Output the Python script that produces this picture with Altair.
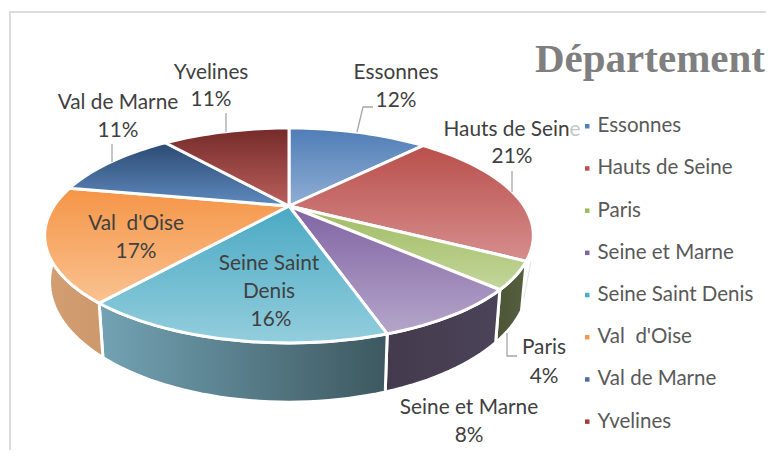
import math
import altair as alt
import pandas as pd

# ---- data
categories = ["Essonnes", "Hauts de Seine", "Paris", "Seine et Marne",
              "Seine Saint Denis", "Val\u00a0 d'Oise", "Val de Marne", "Yvelines"]
shares = [12, 21, 4, 8, 16, 17, 11, 11]
legend_colors = ["#4f81bd", "#c0504d", "#9bbb59", "#8064a2",
                 "#4bacc6", "#f79646", "#4a6fa0", "#a33c3a"]
top_dark = ["#4f7db6", "#b94f4c", "#a0bb62", "#8064a2",
            "#4aa9c3", "#f59547", "#2b4a72", "#742b29"]
top_light = ["#90aed4", "#d68e8d", "#c3d69b", "#b5a5ca",
             "#93cedd", "#fac291", "#5f8abf", "#bb5f5d"]
side_slices = {"Paris": ("#566040", "#4b5434"),
               "Seine et Marne": ("#4b4358", "#443a4e"),
               "Seine Saint Denis": ("#73a3b4", "#3d5860"),
               "Val\u00a0 d'Oise": ("#cc986c", "#d29e72")}

# ---- label layout (text, centre x, centre y)
label_text = ["Yvelines", "11%", "Val de Marne", "11%", "Essonnes", "12%",
              "Hauts de Seine", "21%", "Paris", "4%", "Seine et Marne", "8%",
              "Val\u00a0 d'Oise", "17%", "Seine Saint", "Denis", "16%"]
label_x = [211, 211, 118, 118, 396, 396, 512, 512, 544, 544, 469, 469, 136, 136, 269, 269, 271]
label_y = [73, 100, 103, 131, 73, 101, 130, 157, 348, 377, 408, 436, 224, 252, 264, 292, 320]
leaders = [[(226, 113), (226, 132)],
           [(112, 144), (112, 162)],
           [(373, 107), (363, 107), (357, 132)],
           [(512, 171), (512, 192)],
           [(507, 333), (507, 356), (517, 356)]]

# ---- projection of the tilted disc
CX, CY, BX, AY, K, DEPTH = 289, 206, 235, 99.4, 0.274, 43
X_SCALE = alt.Scale(domain=[8, 766], range=[0, 758], nice=False, zero=False)
Y_SCALE = alt.Scale(domain=[450, 8], range=[442, 0], nice=False, zero=False)


def rim(share_pct, lower=False):
    t = math.radians(share_pct * 3.6)
    sx, sy = math.sin(t), math.cos(t)
    den = 1 + K * sy
    if lower:
        return CX + 0.98 * BX * sx / den, CY - AY * sy / den + DEPTH / den
    return CX + BX * sx / den, CY - AY * sy / den


def arc(a, b, lower=False):
    n = max(2, int((b - a) * 2))
    return [rim(a + (b - a) * i / n, lower) for i in range(n + 1)]


def xy(pts):
    return alt.Data(values=[{"x": float(p[0]), "y": float(p[1]), "i": i} for i, p in enumerate(pts)])


def enc(ch):
    return ch.encode(x=alt.X("x:Q", scale=X_SCALE, axis=None),
                     y=alt.Y("y:Q", scale=Y_SCALE, axis=None),
                     order=alt.Order("i:Q"))


def grad(c1, c2, horizontal=False):
    return alt.Gradient(gradient="linear",
                        stops=[alt.GradientStop(color=c1, offset=0), alt.GradientStop(color=c2, offset=1)],
                        x1=0, y1=0, x2=1 if horizontal else 0, y2=0 if horizontal else 1)


layers = []

# legend carrier, hidden beneath the pie
legend_df = pd.DataFrame({"cat": categories, "x": [CX] * 8, "y": [CY + 20] * 8})
layers.append(alt.Chart(legend_df).mark_square(size=20, opacity=1).encode(
    x=alt.X("x:Q", scale=X_SCALE, axis=None),
    y=alt.Y("y:Q", scale=Y_SCALE, axis=None),
    color=alt.Color("cat:N", sort=categories,
                    scale=alt.Scale(domain=categories, range=legend_colors),
                    legend=alt.Legend(orient="none", legendX=569, legendY=108, title=None,
                                      symbolType="square", symbolSize=20,
                                      labelFont="Lato", labelFontSize=20.5, labelColor="#595959",
                                      labelOffset=0, rowPadding=21.2, labelLimit=220))))

# chart frame
layers.append(enc(alt.Chart(xy([(10, 450), (10, 12), (766, 12)])).mark_line(color="#dcdcdc", strokeWidth=2)))

# sides
cum = [sum(shares[:i]) for i in range(len(shares) + 1)]
for i, cat in enumerate(categories):
    key = cat
    if key in side_slices:
        a, b = cum[i], cum[i + 1]
        pts = arc(a, b) + arc(a, b, True)[::-1]
        pts.append(pts[0])
        c1, c2 = side_slices[key]
        layers.append(enc(alt.Chart(xy(pts)).mark_line(
            fill=grad(c2, c1, True) if cat.startswith("Seine Saint") is False else grad(c1, c2, True),
            stroke="white", strokeWidth=3, strokeJoin="miter")))

# top faces
for i, cat in enumerate(categories):
    pts = [(CX, CY)] + arc(cum[i], cum[i + 1]) + [(CX, CY)]
    layers.append(enc(alt.Chart(xy(pts)).mark_line(
        fill=grad(top_dark[i], top_light[i]), stroke="white", strokeWidth=3, strokeJoin="miter")))

# leader lines
for ld in leaders:
    layers.append(enc(alt.Chart(xy(ld)).mark_line(color="#a6a6a6", strokeWidth=1.3)))
layers.append(enc(alt.Chart(xy([(531, 261), (524, 298)])).mark_line(color="#e2e2e2", strokeWidth=1)))

# data labels
lab_df = pd.DataFrame({"t": label_text, "x": label_x, "y": label_y})
layers.append(alt.Chart(lab_df).mark_text(font="Lato", fontSize=20.8, color="#404040",
                                          align="center", baseline="middle").encode(
    x=alt.X("x:Q", scale=X_SCALE, axis=None),
    y=alt.Y("y:Q", scale=Y_SCALE, axis=None),
    text="t:N"))

# the legend box washes out the end of the clipped label
fade = pd.DataFrame({"x": [569], "x2": [580], "y": [118], "y2": [142]})
layers.append(alt.Chart(fade).mark_rect(color="white", opacity=0.7).encode(
    x=alt.X("x:Q", scale=X_SCALE, axis=None), x2="x2:Q",
    y=alt.Y("y:Q", scale=Y_SCALE, axis=None), y2="y2:Q"))

# title
title_df = pd.DataFrame({"t": ["Département"], "x": [535], "y": [72]})
layers.append(alt.Chart(title_df).mark_text(font="Liberation Serif", fontWeight="bold", fontSize=41,
                                            color="#7f7f7f", align="left", baseline="alphabetic").encode(
    x=alt.X("x:Q", scale=X_SCALE, axis=None),
    y=alt.Y("y:Q", scale=Y_SCALE, axis=None),
    text="t:N"))

chart = alt.layer(*layers).properties(
    width=758, height=442, padding=0, background="white",
    autosize=alt.AutoSizeParams(type="none")
).configure_view(stroke=None)

chart.save("out.html", embed_options={"renderer": "svg", "actions": False})
